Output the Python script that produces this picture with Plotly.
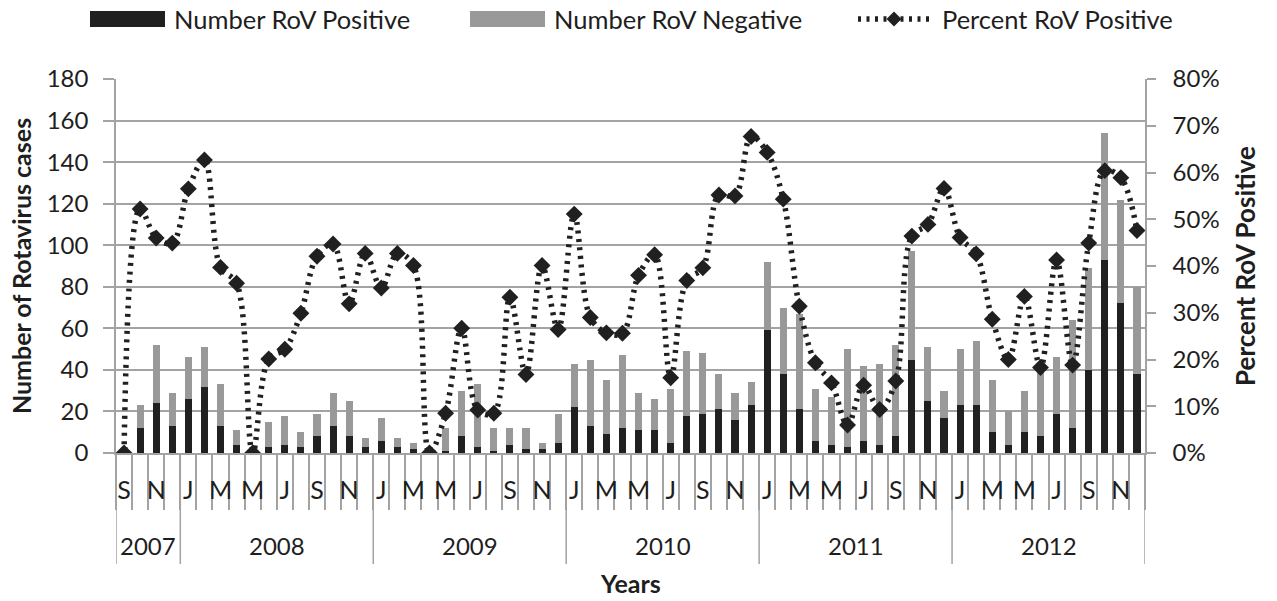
import plotly.graph_objects as go

# Monthly rotavirus surveillance, Sep 2007 - Dec 2012
years = ["2007"] * 4 + ["2008"] * 12 + ["2009"] * 12 + ["2010"] * 12 + ["2011"] * 12 + ["2012"] * 12
months = ["S", "O", "N", "D"] + ["J", "F", "M", "A", "M", "J", "J", "A", "S", "O", "N", "D"] * 5

rov_positive = [0, 12, 24, 13,
                26, 32, 13, 4, 0, 3, 4, 3, 8, 13, 8, 3,
                6, 3, 2, 0, 1, 8, 3, 1, 4, 2, 2, 5,
                22, 13, 9, 12, 11, 11, 5, 18, 19, 21, 16, 23,
                59, 38, 21, 6, 4, 3, 6, 4, 8, 45, 25, 17,
                23, 23, 10, 4, 10, 8, 19, 12, 40, 93, 72, 38]

rov_negative = [3, 11, 28, 16,
                20, 19, 20, 7, 3, 12, 14, 7, 11, 16, 17, 4,
                11, 4, 3, 3, 11, 22, 30, 11, 8, 10, 3, 14,
                21, 32, 26, 35, 18, 15, 26, 31, 29, 17, 13, 11,
                33, 32, 46, 25, 23, 47, 36, 39, 44, 52, 26, 13,
                27, 31, 25, 16, 20, 32, 27, 52, 49, 61, 50, 42]

pct_positive = [0, 52.2, 46.0, 44.9,
                56.5, 62.7, 39.7, 36.3, 0, 20.1, 22.2, 29.9, 42.1, 44.7, 31.9, 42.7,
                35.3, 42.7, 40.1, 0, 8.5, 26.7, 9.2, 8.5, 33.3, 16.8, 40.1, 26.4,
                51.1, 29.0, 25.7, 25.6, 38.0, 42.4, 16.1, 36.9, 39.6, 55.2, 55.0, 67.7,
                64.3, 54.3, 31.4, 19.3, 15.0, 6.0, 14.5, 9.3, 15.4, 46.4, 48.9, 56.6,
                46.1, 42.6, 28.6, 20.0, 33.5, 18.3, 41.3, 18.8, 44.9, 60.4, 58.9, 47.6]

y_ticks = [0, 20, 40, 60, 80, 100, 120, 140, 160, 180]
pct_ticks = [0, 10, 20, 30, 40, 50, 60, 70, 80]
pct_labels = [f"{v}%" for v in pct_ticks]

FONT = "Lato"
TXT = "#1e1e1e"
GRID = "#a3a3a3"
BLACK = "#202020"
GREY = "#999999"
DOTS = "3px,5.5px"

idx = list(range(len(months)))
# show every other month letter, as on the printed axis
tick_pos = idx[::2]
tick_txt = months[::2]

fig = go.Figure()
fig.add_trace(go.Bar(x=idx, y=rov_positive, marker_color=BLACK, marker_line_width=0,
                     name="Number RoV Positive", showlegend=False))
fig.add_trace(go.Bar(x=idx, y=rov_negative, marker_color=GREY, marker_line_width=0,
                     name="Number RoV Negative", showlegend=False))
fig.add_trace(go.Scatter(x=idx, y=pct_positive, yaxis="y2", mode="lines+markers",
                         line=dict(color=BLACK, width=5.5, dash=DOTS, shape="spline", smoothing=1.0),
                         marker=dict(symbol="diamond", size=13, color=BLACK),
                         name="Percent RoV Positive", showlegend=False))

# year group separators and labels below the month row
year_names = []
for y in years:
    if y not in year_names:
        year_names.append(y)
bounds = [-0.5]
for yname in year_names:
    bounds.append(bounds[-1] + years.count(yname))

shapes = []
annotations = []
for b in bounds:
    shapes.append(dict(type="line", xref="x", yref="paper", x0=b, x1=b, y0=0, y1=-0.297,
                       line=dict(color=GRID, width=1.5)))
for k, yname in enumerate(year_names):
    annotations.append(dict(xref="x", yref="paper", x=(bounds[k] + bounds[k + 1]) / 2, y=-0.246,
                            text=yname, showarrow=False, font=dict(family=FONT, size=24, color=TXT),
                            yanchor="middle"))

# legend drawn along the top edge
W, H = 1029.0, 374.0
def px(x):
    return (x - 116) / W
def py(y):
    return (453 - y) / H

shapes.append(dict(type="rect", xref="paper", yref="paper", x0=px(90), x1=px(165), y0=py(27), y1=py(11),
                   fillcolor=BLACK, line_width=0))
shapes.append(dict(type="rect", xref="paper", yref="paper", x0=px(470), x1=px(545), y0=py(27), y1=py(11),
                   fillcolor=GREY, line_width=0))
shapes.append(dict(type="line", xref="paper", yref="paper", x0=px(858), x1=px(932), y0=py(19), y1=py(19),
                   line=dict(color=BLACK, width=5.5, dash=DOTS)))
cx = 894
shapes.append(dict(type="path", xref="paper", yref="paper",
                   path="M {a},{b} L {c},{d} L {a},{e} L {f},{d} Z".format(
                       a=px(cx), b=py(11.5), c=px(cx + 7.5), d=py(19), e=py(26.5), f=px(cx - 7.5)),
                   fillcolor=BLACK, line_width=0))
for lx, label in ((172, "Number RoV Positive"), (552, "Number RoV Negative"), (940, "Percent RoV Positive")):
    annotations.append(dict(xref="paper", yref="paper", x=px(lx), y=py(19), xanchor="left", yanchor="middle",
                            text=label, showarrow=False, font=dict(family=FONT, size=25.5, color=TXT)))

annotations.append(dict(xref="paper", yref="paper", x=px(630), y=py(583), text="<b>Years</b>",
                        showarrow=False, font=dict(family=FONT, size=25, color=TXT), yanchor="middle"))

fig.update_layout(
    width=1277, height=601,
    margin=dict(l=116, r=132, t=79, b=148),
    paper_bgcolor="white", plot_bgcolor="white",
    barmode="stack", bargap=0.56,
    font=dict(family=FONT, size=24, color=TXT),
    shapes=shapes, annotations=annotations,
    xaxis=dict(range=[-0.5, len(months) - 0.5], tickmode="array", tickvals=tick_pos, ticktext=tick_txt,
               ticks="", ticklabelstandoff=14, showgrid=False, zeroline=False,
               showline=True, linecolor=GRID, linewidth=1.5,
               tickfont=dict(family=FONT, size=25, color=TXT),
               minor=dict(tickmode="array", tickvals=[b - 0.5 for b in idx] + [len(idx) - 0.5],
                          ticks="outside", ticklen=55, tickcolor=GRID, tickwidth=1.5, showgrid=False)),
    yaxis=dict(range=[0, 180], tickmode="array", tickvals=y_ticks, showgrid=True, gridcolor=GRID, gridwidth=1.5,
               zeroline=False, showline=True, linecolor=GRID, linewidth=1.5,
               ticks="outside", ticklen=11, tickcolor=GRID, tickwidth=1.5, ticklabelstandoff=10,
               tickfont=dict(family=FONT, size=24, color=TXT),
               title=dict(text="<b>Number of Rotavirus cases</b>", standoff=8,
                          font=dict(family=FONT, size=25, color=TXT))),
    yaxis2=dict(range=[0, 80], overlaying="y", side="right", tickmode="array", tickvals=pct_ticks,
                ticktext=pct_labels, showgrid=False, zeroline=False, showline=True, linecolor=GRID, linewidth=1.5,
                ticks="outside", ticklen=9, tickcolor=GRID, tickwidth=1.5, ticklabelstandoff=12,
                tickfont=dict(family=FONT, size=24, color=TXT),
                title=dict(text="<b>Percent RoV Positive</b>", standoff=18,
                           font=dict(family=FONT, size=26, color=TXT))),
)

fig.write_html("out.html")
